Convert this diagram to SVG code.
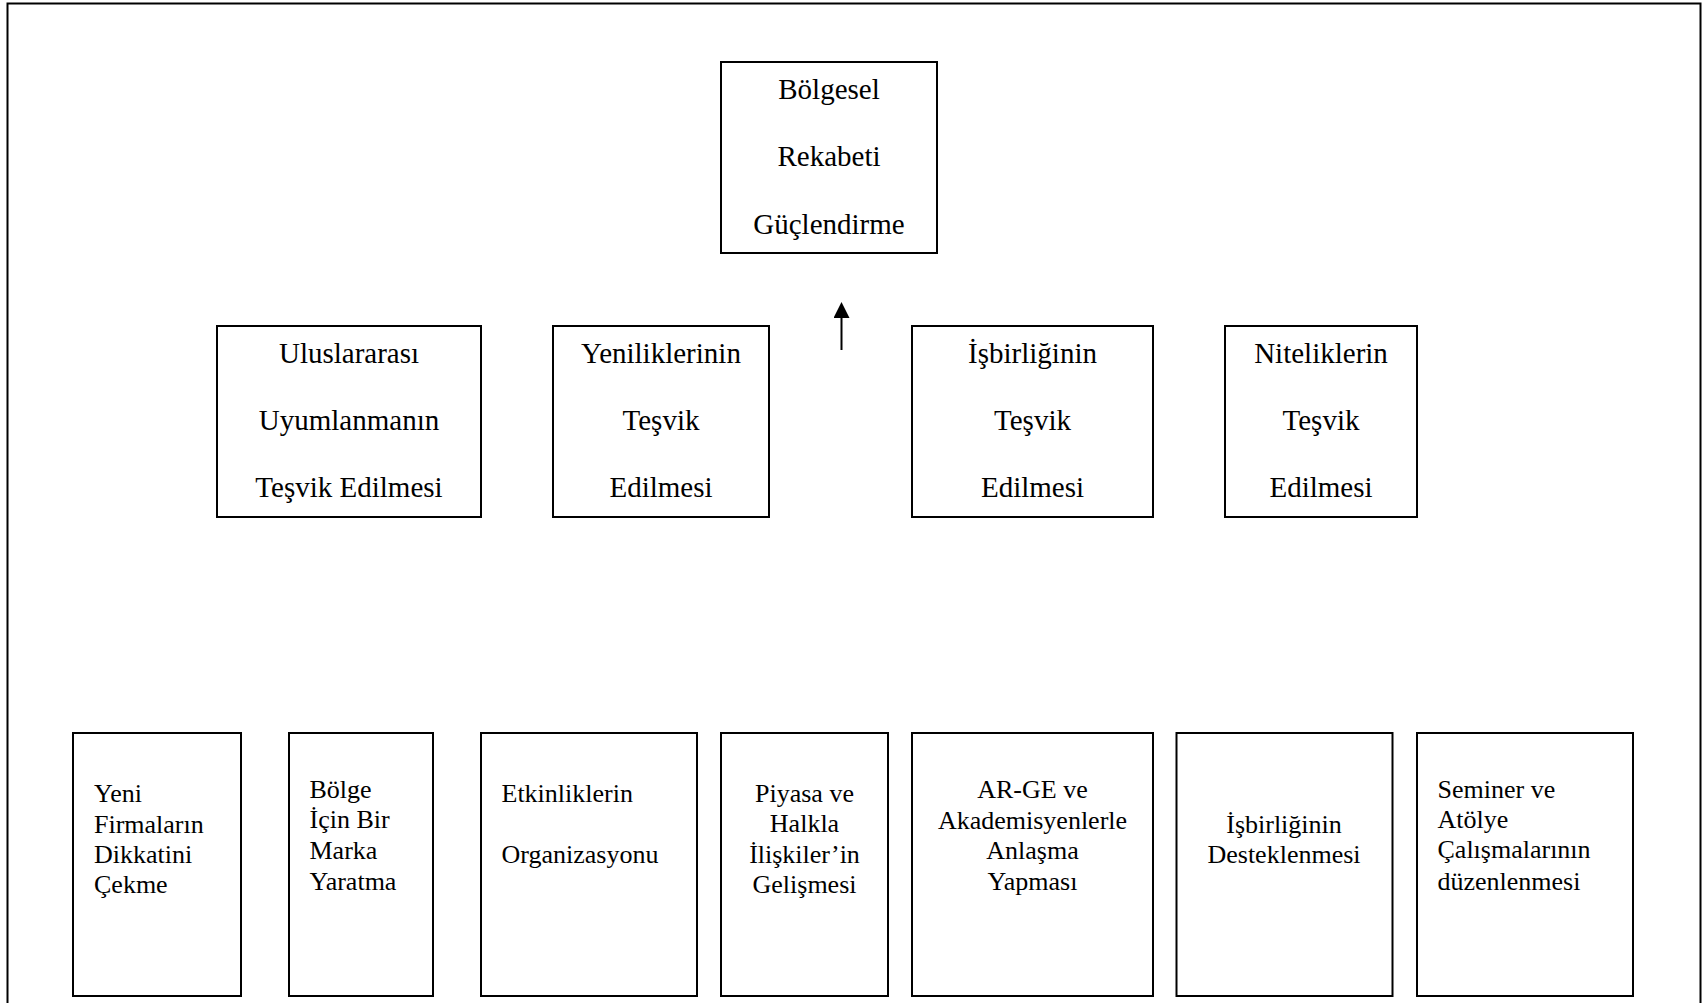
<svg xmlns="http://www.w3.org/2000/svg" width="1703" height="1003" viewBox="0 0 1703 1003">
<style>
.box{fill:#fff;stroke:#000;stroke-width:2}
.t{font-family:"Liberation Serif","Times New Roman",serif;fill:#000}
.big{font-size:29px;text-anchor:middle}
.sm{font-size:26px}
.c{text-anchor:middle}
.conn{stroke:#000;stroke-width:2;fill:none}
</style>
<defs>
<marker id="ah" viewBox="0 0 16 16" refX="0" refY="8" markerWidth="16" markerHeight="16" markerUnits="userSpaceOnUse" orient="auto">
<path d="M0,0 L16,8 L0,16 z" fill="#000"/>
</marker>
</defs>
<rect x="0" y="0" width="1703" height="1003" fill="#fff"/>
<rect x="7.5" y="3.5" width="1693" height="1020" fill="none" stroke="#000" stroke-width="2"/>

<g id="connectors">
<line class="conn" x1="841.5" y1="350" x2="841.5" y2="318" marker-end="url(#ah)"/>
</g>

<g id="n-top">
<rect class="box" x="721" y="62" width="216" height="191"/>
<text class="t big" x="829" y="99">Bölgesel</text>
<text class="t big" x="829" y="166">Rekabeti</text>
<text class="t big" x="829" y="234">Güçlendirme</text>
</g>

<g id="n-m1">
<rect class="box" x="217" y="326" width="264" height="191"/>
<text class="t big" x="349" y="363">Uluslararası</text>
<text class="t big" x="349" y="430">Uyumlanmanın</text>
<text class="t big" x="349" y="497">Teşvik Edilmesi</text>
</g>
<g id="n-m2">
<rect class="box" x="553" y="326" width="216" height="191"/>
<text class="t big" x="661" y="363">Yeniliklerinin</text>
<text class="t big" x="661" y="430">Teşvik</text>
<text class="t big" x="661" y="497">Edilmesi</text>
</g>
<g id="n-m3">
<rect class="box" x="912" y="326" width="241" height="191"/>
<text class="t big" x="1032.5" y="363">İşbirliğinin</text>
<text class="t big" x="1032.5" y="430">Teşvik</text>
<text class="t big" x="1032.5" y="497">Edilmesi</text>
</g>
<g id="n-m4">
<rect class="box" x="1225" y="326" width="192" height="191"/>
<text class="t big" x="1321" y="363">Niteliklerin</text>
<text class="t big" x="1321" y="430">Teşvik</text>
<text class="t big" x="1321" y="497">Edilmesi</text>
</g>

<g id="n-b1">
<rect class="box" x="73" y="733" width="168" height="263"/>
<text class="t sm" x="94" y="802">Yeni</text>
<text class="t sm" x="94" y="833">Firmaların</text>
<text class="t sm" x="94" y="863">Dikkatini</text>
<text class="t sm" x="94" y="893">Çekme</text>
</g>
<g id="n-b2">
<rect class="box" x="289" y="733" width="144" height="263"/>
<text class="t sm" x="309.5" y="798">Bölge</text>
<text class="t sm" x="309.5" y="828">İçin Bir</text>
<text class="t sm" x="309.5" y="859">Marka</text>
<text class="t sm" x="309.5" y="890">Yaratma</text>
</g>
<g id="n-b3">
<rect class="box" x="481" y="733" width="216" height="263"/>
<text class="t sm" x="501.5" y="802">Etkinliklerin</text>
<text class="t sm" x="501.5" y="863">Organizasyonu</text>
</g>
<g id="n-b4">
<rect class="box" x="721" y="733" width="167" height="263"/>
<text class="t sm c" x="804.5" y="802">Piyasa ve</text>
<text class="t sm c" x="804.5" y="832">Halkla</text>
<text class="t sm c" x="804.5" y="863">İlişkiler’in</text>
<text class="t sm c" x="804.5" y="893">Gelişmesi</text>
</g>
<g id="n-b5">
<rect class="box" x="912" y="733" width="241" height="263"/>
<text class="t sm c" x="1032.5" y="798">AR-GE ve</text>
<text class="t sm c" x="1032.5" y="829">Akademisyenlerle</text>
<text class="t sm c" x="1032.5" y="859">Anlaşma</text>
<text class="t sm c" x="1032.5" y="890">Yapması</text>
</g>
<g id="n-b6">
<rect class="box" x="1176.5" y="733" width="216" height="263"/>
<text class="t sm c" x="1284" y="833">İşbirliğinin</text>
<text class="t sm c" x="1284" y="863">Desteklenmesi</text>
</g>
<g id="n-b7">
<rect class="box" x="1417" y="733" width="216" height="263"/>
<text class="t sm" x="1437.5" y="798">Seminer ve</text>
<text class="t sm" x="1437.5" y="828">Atölye</text>
<text class="t sm" x="1437.5" y="858">Çalışmalarının</text>
<text class="t sm" x="1437.5" y="890">düzenlenmesi</text>
</g>
</svg>
